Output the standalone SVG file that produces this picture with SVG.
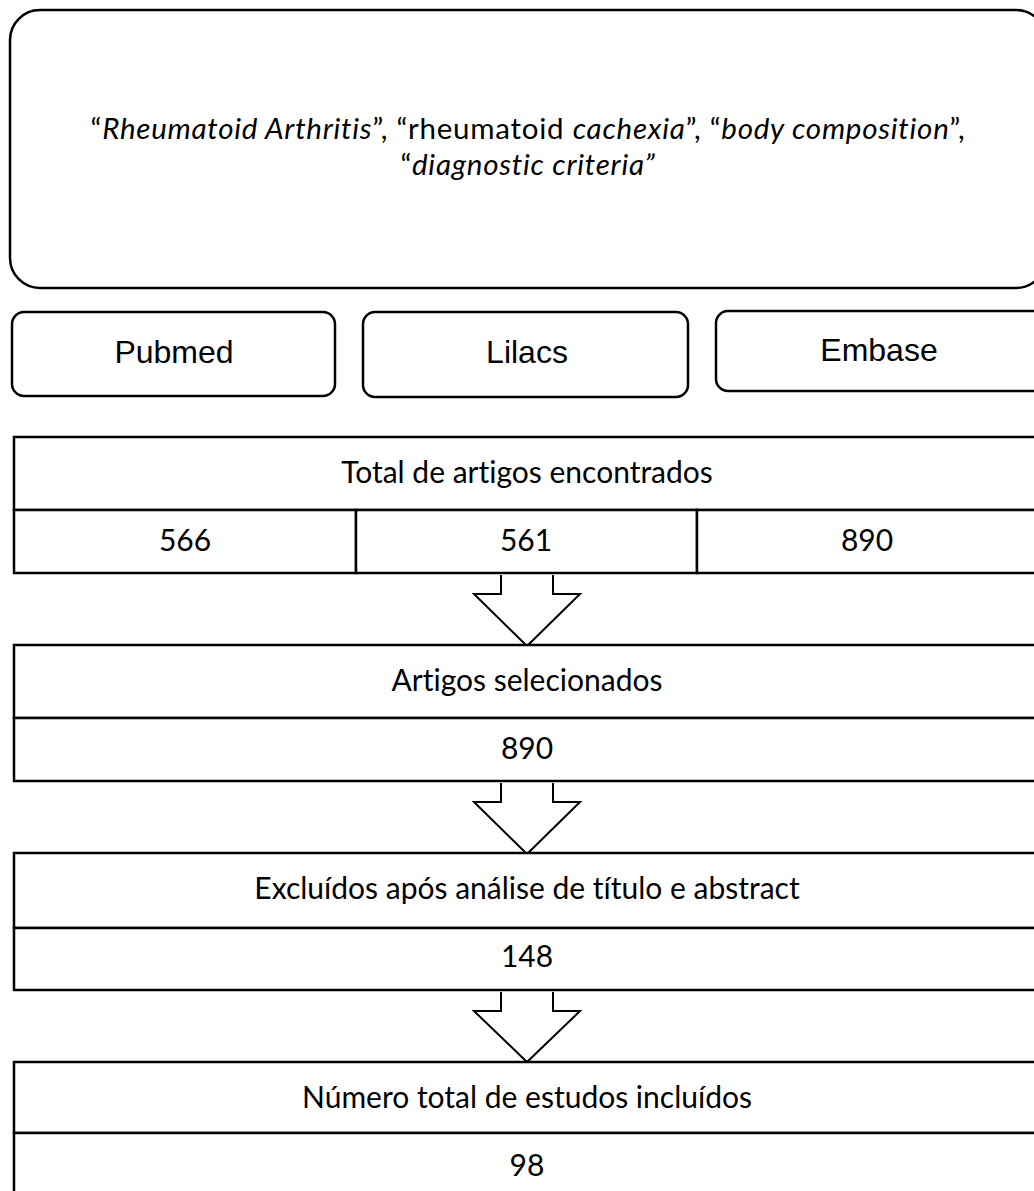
<svg xmlns="http://www.w3.org/2000/svg" width="1034" height="1191" viewBox="0 0 1034 1191">
<style>
.box{fill:#fff;stroke:#000;stroke-width:2.5}
.cell{fill:#fff;stroke:#000;stroke-width:2.5}
.arrow{fill:#fff;stroke:#000;stroke-width:2;stroke-linejoin:miter}
.cal{font-family:Lato,"Open Sans","Liberation Sans",sans-serif;font-size:30px;fill:#000;text-anchor:middle;font-variant-ligatures:none}
.top{font-size:29.5px;letter-spacing:0.75px}
.ari{font-family:"Liberation Sans",Arial,sans-serif;font-size:32px;fill:#000;text-anchor:middle}
.it{font-style:italic}
</style>
<rect width="1034" height="1191" fill="#fff"/>
<g id="connectors">
<polyline class="arrow" points="501,575 501,594 474,594 527,646 580,594 553,594 553,575"/>
<polyline class="arrow" points="501,783 501,802 474,802 527,854 580,802 553,802 553,783"/>
<polyline class="arrow" points="501,992 501,1011 474,1011 527,1062 580,1011 553,1011 553,992"/>
</g>
<g id="keywords">
<rect class="box" x="10" y="10" width="1036" height="278" rx="30" ry="30"/>
<text class="cal top" x="528" y="139">“<tspan class="it">Rheumatoid Arthritis</tspan>”, “rheumatoid <tspan class="it">cachexia</tspan>”, “<tspan class="it">body composition</tspan>”,</text>
<text class="cal top" x="528" y="175">“<tspan class="it">diagnostic criteria”</tspan></text>
</g>
<g id="pubmed">
<rect class="box" x="12" y="312" width="323" height="84" rx="12" ry="12"/>
<text class="ari" x="174" y="363">Pubmed</text>
</g>
<g id="lilacs">
<rect class="box" x="363" y="312" width="325" height="85" rx="12" ry="12"/>
<text class="ari" x="527" y="363">Lilacs</text>
</g>
<g id="embase">
<rect class="box" x="716" y="311" width="330" height="80" rx="12" ry="12"/>
<text class="ari" x="879" y="361">Embase</text>
</g>
<g id="total">
<rect class="cell" x="14" y="437" width="1026" height="73"/>
<rect class="cell" x="14" y="510" width="342" height="63"/>
<rect class="cell" x="356" y="510" width="341" height="63"/>
<rect class="cell" x="697" y="510" width="343" height="63"/>
<text class="cal" x="527" y="483">Total de artigos encontrados</text>
<text class="cal" x="185" y="551">566</text>
<text class="cal" x="526" y="551">561</text>
<text class="cal" x="867" y="551">890</text>
</g>
<g id="selecionados">
<rect class="cell" x="14" y="645" width="1026" height="73"/>
<rect class="cell" x="14" y="718" width="1026" height="63"/>
<text class="cal" x="527" y="691">Artigos selecionados</text>
<text class="cal" x="527" y="759">890</text>
</g>
<g id="excluidos">
<rect class="cell" x="14" y="853" width="1026" height="75"/>
<rect class="cell" x="14" y="928" width="1026" height="62"/>
<text class="cal" x="527" y="899">Excluídos após análise de título e abstract</text>
<text class="cal" x="527" y="967">148</text>
</g>
<g id="incluidos">
<rect class="cell" x="14" y="1062" width="1026" height="71"/>
<rect class="cell" x="14" y="1133" width="1026" height="70"/>
<text class="cal" x="527" y="1108">Número total de estudos incluídos</text>
<text class="cal" x="527" y="1176">98</text>
</g>
</svg>
